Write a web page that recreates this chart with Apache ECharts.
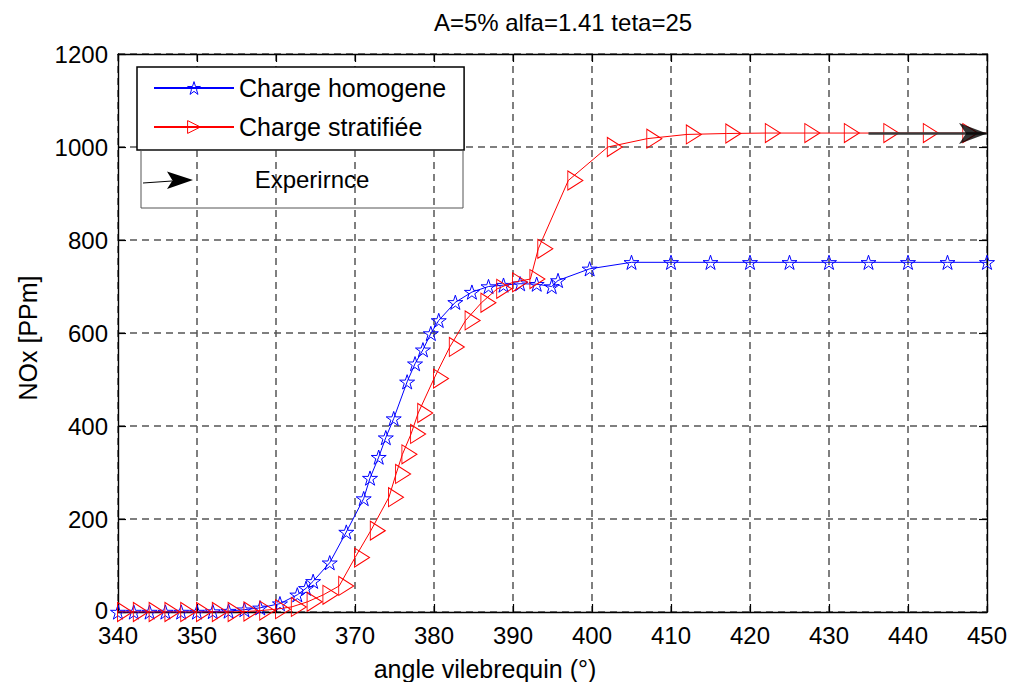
<!DOCTYPE html>
<html>
<head>
<meta charset="utf-8">
<title>NOx - angle vilebrequin</title>
<script src="https://cdn.jsdelivr.net/npm/echarts@6/dist/echarts.min.js"></script>
<style>
  html, body { margin: 0; padding: 0; background: #fff; }
  #chart { width: 1011px; height: 682px; }
</style>
</head>
<body>
<div id="chart"></div>
<script>
// ---- data -------------------------------------------------------------
// Charge homogene : crank angle (deg) and NOx (ppm)
const angleHomogene = [340, 342, 344, 346, 348, 350, 352, 354, 356, 358,
  360.5, 362.7, 363.8, 364.7, 366.8, 368.9, 371.1, 371.9, 373, 373.9,
  374.9, 376.6, 377.6, 378.6, 379.6, 380.6, 382.7, 384.8, 386.9, 388.8,
  390.9, 393, 394.9, 395.7, 399.7, 405, 410, 415, 420, 425,
  430, 435, 440, 445, 450];
const noxHomogene = [0, 0, 0, 0, 0, 0, 1, 2, 5, 9,
  18, 37, 51, 66, 106, 172, 244, 288, 333, 375,
  416, 495, 534, 564, 599, 627, 666, 688, 700, 703,
  706, 705, 700, 713, 738, 752, 752, 752, 752, 752,
  752, 752, 752, 752, 752];

// Charge stratifiée : crank angle (deg) and NOx (ppm)
const angleStratifiee = [340, 342, 344, 346, 348, 350, 352, 354, 356, 358,
  360, 362, 364, 366, 368, 370, 372, 374.3, 375.2, 376,
  377.1, 378, 380, 382, 384, 386, 388, 390, 392.2, 393.2,
  397, 402, 407, 412, 417, 422, 427, 432, 437, 442,
  447, 450];
const noxStratifiee = [0, 0, 0, 0, 0, 0, 0, 0, 1, 3,
  6, 11, 22, 37, 56, 117, 175, 247, 297, 339,
  383, 428, 502, 570, 627, 665, 695, 709, 716, 781,
  928, 1000, 1018, 1027, 1029, 1030, 1030, 1030, 1030, 1030,
  1030, 1030];

// Experimental value, drawn as an arrow
const angleExperience = [435, 450];
const noxExperience = [1029, 1029];

// Axis ranges and tick steps
const angleAxis = { min: 340, max: 450, step: 10 };
const noxAxis = { min: 0, max: 1200, step: 200 };

// ---- styles -----------------------------------------------------------
const FONT = '"Liberation Sans", Arial, Helvetica, sans-serif';
const STAR = 'path://M0,-10 L2.245,-3.09 L9.511,-3.09 L3.633,1.18 L5.878,8.09 L0,3.82 L-5.878,8.09 L-3.633,1.18 L-9.511,-3.09 L-2.245,-3.09 Z';
const TRIANGLE_RIGHT = 'path://M0,0 L0,20 L16,10 Z';
const ARROW_HEAD = 'path://M0,0 L-28,-10.5 L-21,0 L-28,10.5 Z';
const HOLLOW = 'rgba(255,255,255,0)';

const pairs = (xs, ys) => xs.map((x, i) => [x, ys[i]]);

const axisLine = { show: true, onZero: false, lineStyle: { color: '#000', width: 1.4 } };
const axisTick = { show: true, inside: true, length: 8, lineStyle: { color: '#000', width: 1.2 } };
const gridLine = { show: true, lineStyle: { color: '#555', width: 1.5, type: [7, 5] } };
const tickFont = { fontSize: 24, color: '#000', fontFamily: FONT, lineHeight: 18 };

function xAxisDef(position, main) {
  return {
    type: 'value', position,
    min: angleAxis.min, max: angleAxis.max, interval: angleAxis.step,
    axisLine, axisTick,
    axisLabel: main ? Object.assign({ margin: 14, formatter: v => String(v) }, tickFont) : { show: false },
    splitLine: main ? gridLine : { show: false }
  };
}
function yAxisDef(position, main) {
  return {
    type: 'value', position,
    min: noxAxis.min, max: noxAxis.max, interval: noxAxis.step,
    axisLine, axisTick,
    axisLabel: main ? Object.assign({
      margin: 10,
      // the bottom label sits a touch higher so it clears the angle labels
      formatter: v => (v === noxAxis.min ? '{low|' + v + '}' : String(v)),
      rich: { low: { fontSize: 24, fontFamily: FONT, color: '#000', lineHeight: 18, padding: [0, 0, 3, 0] } }
    }, tickFont) : { show: false },
    splitLine: main ? gridLine : { show: false }
  };
}

const redData = pairs(angleStratifiee, noxStratifiee).map((p, i, arr) =>
  i === arr.length - 1 ? { value: p, symbol: 'none' } : p);

const chart = echarts.init(document.getElementById('chart'), null, { renderer: 'svg' });

chart.setOption({
  animation: false,
  backgroundColor: '#fff',
  grid: { left: 118, right: 24, top: 54, bottom: 70 },
  xAxis: [xAxisDef('bottom', true), xAxisDef('top', false)],
  yAxis: [yAxisDef('left', true), yAxisDef('right', false)],
  legend: {
    orient: 'vertical', left: 137, top: 67,
    padding: [7, 18, 9, 16], itemGap: 11,
    itemWidth: 80, itemHeight: 16,
    backgroundColor: '#fff', borderColor: '#000', borderWidth: 1.5,
    itemStyle: { color: HOLLOW, borderWidth: 1 },
    textStyle: { fontSize: 25, color: '#000', fontFamily: FONT, lineHeight: 28 },
    data: ['Charge homogene', 'Charge stratifiée']
  },
  series: [
    {
      name: 'Charge homogene', type: 'line',
      data: pairs(angleHomogene, noxHomogene),
      symbol: STAR, symbolSize: 15, symbolKeepAspect: true, showAllSymbol: true,
      lineStyle: { color: '#0000ff', width: 1 },
      itemStyle: { color: HOLLOW, borderColor: '#0000ff', borderWidth: 1 },
      emphasis: { disabled: true }, z: 3
    },
    {
      name: 'Charge stratifiée', type: 'line',
      data: redData,
      symbol: TRIANGLE_RIGHT, symbolSize: [15, 19], symbolOffset: [7, 0], showAllSymbol: true,
      lineStyle: { color: '#ff0000', width: 1 },
      itemStyle: { color: HOLLOW, borderColor: '#ff0000', borderWidth: 1 },
      emphasis: { disabled: true }, z: 4
    },
    {
      name: 'Experirnce', type: 'line',
      data: pairs(angleExperience, noxExperience),
      symbol: 'none',
      lineStyle: { color: '#3a3a3a', width: 2.5 },
      emphasis: { disabled: true }, z: 5
    },
    {
      name: 'Experirnce tip', type: 'scatter',
      data: [[angleExperience[1], noxExperience[1]]],
      symbol: ARROW_HEAD, symbolSize: [28, 21], symbolOffset: [-14, 0],
      itemStyle: { color: '#000' },
      emphasis: { disabled: true }, z: 6
    }
  ],
  graphic: [
    // title and axis names
    { type: 'text', x: 563, y: 22, style: { text: 'A=5% alfa=1.41 teta=25', font: '24px ' + FONT, fill: '#000', align: 'center', verticalAlign: 'middle' } },
    { type: 'text', x: 485, y: 669, style: { text: 'angle vilebrequin (°)', font: '25px ' + FONT, fill: '#000', align: 'center', verticalAlign: 'middle' } },
    { type: 'text', x: 28, y: 338, rotation: Math.PI / 2, style: { text: 'NOx [PPm]', font: '25px ' + FONT, fill: '#000', align: 'center', verticalAlign: 'middle' } },
    // box for the experimental arrow
    { type: 'rect', shape: { x: 141, y: 150, width: 322, height: 58 }, style: { fill: 'none', stroke: '#555', lineWidth: 1 }, z: 50 },
    { type: 'line', shape: { x1: 143, y1: 183, x2: 172, y2: 181 }, style: { stroke: '#000', lineWidth: 1 }, z: 51 },
    { type: 'polygon', shape: { points: [[193, 180], [167, 171.5], [172.5, 180.5], [167, 189]] }, style: { fill: '#000' }, z: 51 },
    { type: 'text', x: 312, y: 179, style: { text: 'Experirnce', font: '24px ' + FONT, fill: '#000', align: 'center', verticalAlign: 'middle' }, z: 51 }
  ]
});
</script>
</body>
</html>
